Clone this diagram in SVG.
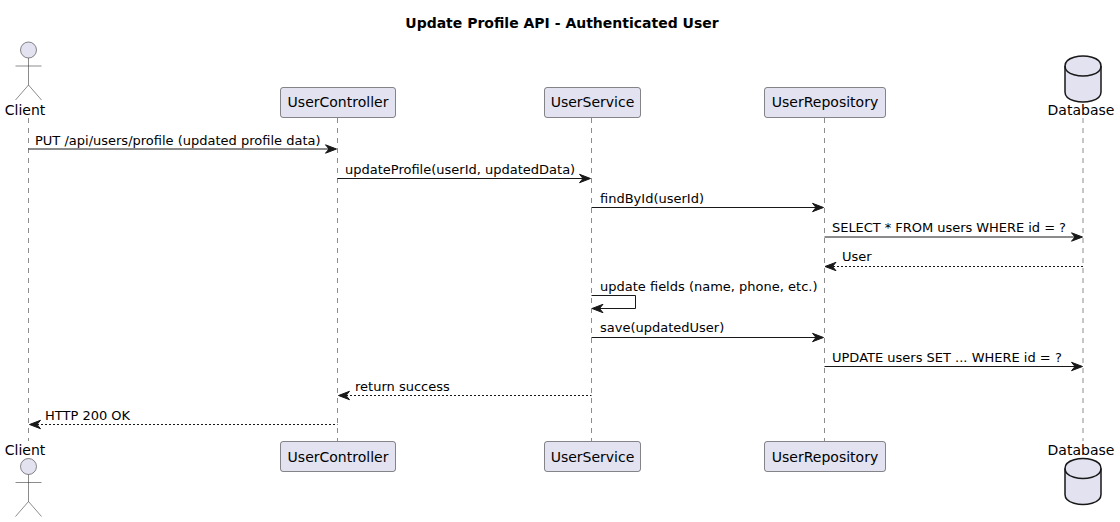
<svg xmlns="http://www.w3.org/2000/svg" width="1120" height="522" viewBox="0 0 1120 522">
<style>
text{font-family:"DejaVu Sans",sans-serif;fill:#000}
.t{font-size:14px;font-weight:700}
.n{font-size:14px}
.m{font-size:13px}
.life{stroke:#181818;stroke-width:.5;stroke-dasharray:5,5;fill:none}
.box{fill:#E2E2F0;stroke:#181818;stroke-width:.5}
.act{fill:none;stroke:#181818;stroke-width:.5}
.db{fill:#E2E2F0;stroke:#181818;stroke-width:1.5}
.msg{stroke:#181818;stroke-width:1;fill:none}
.dash{stroke-dasharray:2,2}
.head{fill:#181818;stroke:#181818;stroke-width:1}
</style>
<defs>
<g id="actor">
<circle class="box" cx="0" cy="8" r="8"/>
<path class="act" d="M0 16V43M-13 24H13M0 43L-13 58M0 43L13 58"/>
</g>
<g id="cyl">
<path class="db" d="M-18 10C-18 0 0 0 0 0C0 0 18 0 18 10V36C18 46 0 46 0 46C0 46 -18 46 -18 36Z"/>
<path class="db" style="fill:none" d="M-18 10C-18 20 0 20 0 20C0 20 18 20 18 10"/>
</g>
</defs>
<text class="t" x="562" y="28" text-anchor="middle">Update Profile API - Authenticated User</text>
<g id="lifelines">
<line class="life" x1="28.5" y1="118" x2="28.5" y2="441"/>
<line class="life" x1="337.5" y1="118" x2="337.5" y2="441"/>
<line class="life" x1="591.5" y1="118" x2="591.5" y2="441"/>
<line class="life" x1="824.5" y1="118" x2="824.5" y2="441"/>
<line class="life" x1="1083" y1="118" x2="1083" y2="441"/>
</g>
<g id="client">
<use href="#actor" x="28.5" y="42"/>
<text class="n" x="25" y="115" text-anchor="middle">Client</text>
<text class="n" x="25" y="455" text-anchor="middle">Client</text>
<use href="#actor" x="28.5" y="458.500"/>
</g>
<g id="usercontroller">
<rect class="box" x="280.500" y="87.500" width="115" height="30" rx="2.500"/>
<text class="n" x="338" y="107" text-anchor="middle">UserController</text>
<rect class="box" x="280.500" y="441.500" width="115" height="30" rx="2.500"/>
<text class="n" x="338" y="462" text-anchor="middle">UserController</text>
</g>
<g id="userservice">
<rect class="box" x="544.500" y="87.500" width="96" height="30" rx="2.500"/>
<text class="n" x="592.500" y="107" text-anchor="middle">UserService</text>
<rect class="box" x="544.500" y="441.500" width="96" height="30" rx="2.500"/>
<text class="n" x="592.500" y="462" text-anchor="middle">UserService</text>
</g>
<g id="userrepository">
<rect class="box" x="764.500" y="87.500" width="121" height="30" rx="2.500"/>
<text class="n" x="825" y="107" text-anchor="middle">UserRepository</text>
<rect class="box" x="764.500" y="441.500" width="121" height="30" rx="2.500"/>
<text class="n" x="825" y="462" text-anchor="middle">UserRepository</text>
</g>
<g id="database">
<use href="#cyl" x="1083" y="56"/>
<text class="n" x="1081" y="115" text-anchor="middle">Database</text>
<text class="n" x="1081" y="455" text-anchor="middle">Database</text>
<use href="#cyl" x="1083" y="458.500"/>
</g>
<g id="connectors">
<path class="msg" d="M28.500 149H333"/><path class="head" d="M325.500 144.800L336.500 149L325.500 153.200L329 149Z"/>
<path class="msg" d="M337.500 178.500H587"/><path class="head" d="M579.500 174.300L590.500 178.500L579.500 182.700L583 178.500Z"/>
<path class="msg" d="M591.500 207.500H820"/><path class="head" d="M812.500 203.300L823.500 207.500L812.500 211.700L816 207.500Z"/>
<path class="msg" d="M824.500 237H1079"/><path class="head" d="M1071.500 232.800L1082.500 237L1071.500 241.200L1075 237Z"/>
<path class="msg dash" d="M829 266.500H1083"/><path class="head" d="M836 262.300L825 266.500L836 270.700L832.500 266.500Z"/>
<path class="msg" d="M591.500 295.500H635.500V308.500H596"/><path class="head" d="M603 304.300L592 308.500L603 312.700L599.500 308.500Z"/>
<path class="msg" d="M591.500 337.500H820"/><path class="head" d="M812.500 333.300L823.500 337.500L812.500 341.700L816 337.500Z"/>
<path class="msg" d="M824.500 366.500H1079"/><path class="head" d="M1071.500 362.300L1082.500 366.500L1071.500 370.700L1075 366.500Z"/>
<path class="msg dash" d="M342 395.500H591.500"/><path class="head" d="M349.500 391.300L338.500 395.500L349.500 399.700L346 395.500Z"/>
<path class="msg dash" d="M33 424.500H337.500"/><path class="head" d="M40.500 420.300L29.500 424.500L40.500 428.700L37 424.500Z"/>
</g>
<g id="labels">
<text class="m" x="35" y="145">PUT /api/users/profile (updated profile data)</text>
<text class="m" x="345" y="174">updateProfile(userId, updatedData)</text>
<text class="m" x="600" y="203">findById(userId)</text>
<text class="m" x="832" y="232" textLength="234">SELECT * FROM users WHERE id = ?</text>
<text class="m" x="842" y="261">User</text>
<text class="m" x="600" y="291">update fields (name, phone, etc.)</text>
<text class="m" x="600" y="332">save(updatedUser)</text>
<text class="m" x="832" y="362">UPDATE users SET ... WHERE id = ?</text>
<text class="m" x="355" y="391">return success</text>
<text class="m" x="45" y="420">HTTP 200 OK</text>
</g>
</svg>
